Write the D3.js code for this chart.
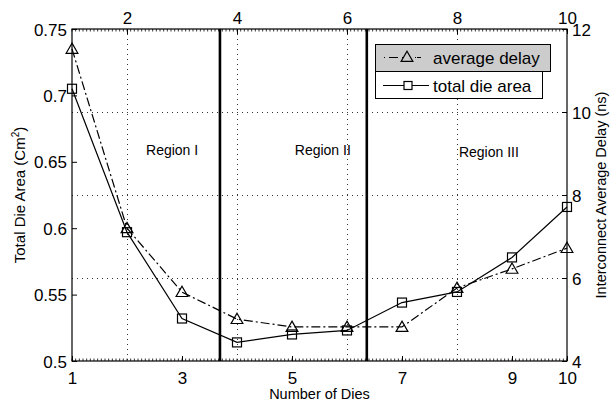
<!DOCTYPE html>
<html><head><meta charset="utf-8">
<script src="https://cdn.jsdelivr.net/npm/d3@7"></script>
<style>body{margin:0;background:#fff}svg{display:block;font-family:"Liberation Sans",Arial,sans-serif}</style>
</head><body><svg id="c" width="611" height="405"></svg>
<script>
const dies = [1,2,3,4,5,6,7,8,9,10];
const dieArea = [0.705,0.597,0.532,0.514,0.520,0.523,0.544,0.552,0.578,0.616];
const avgDelay = [11.52,7.20,5.66,5.01,4.82,4.82,4.82,5.76,6.22,6.72];
const bottomTicks = [1,3,5,7,9,10];
const topTicks = [2,4,6,8,10];
const leftTicks = [0.5,0.55,0.6,0.65,0.7,0.75];
const rightTicks = [4,6,8,10,12];
const regionBounds = [3.69, 6.36];
const regionNames = ["Region I","Region II","Region III"];
const regionX = [2.82, 5.56, 8.58];
const regionY = [9.08, 9.08, 9.04];
const legendNames = ["average delay","total die area"];

const svg = d3.select("#c");
const L=72,R=567,T=29,B=361;
const x = d3.scaleLinear().domain([1,10]).range([L,R]);
const yL = d3.scaleLinear().domain([0.5,0.75]).range([B,T]);
const yR = d3.scaleLinear().domain([4,12]).range([B,T]);

// grid (from second axes)
const g = svg.append("g").attr("stroke","#333").attr("stroke-width",1).attr("stroke-dasharray","1,4");
topTicks.filter(t=>t<10).forEach(t=>g.append("line").attr("x1",x(t)+0.5).attr("x2",x(t)+0.5).attr("y1",T).attr("y2",B));
rightTicks.filter(t=>t>4&&t<12).forEach(t=>g.append("line").attr("x1",L).attr("x2",R).attr("y1",yR(t)+0.5).attr("y2",yR(t)+0.5));

// minor ticks
const minor = d3.range(1,10.001,1/15);
const mt = svg.append("g").attr("stroke","#000").attr("stroke-width",0.8);
minor.forEach(v=>{
  mt.append("line").attr("x1",x(v)).attr("x2",x(v)).attr("y1",B).attr("y2",B-2.5);
  mt.append("line").attr("x1",x(v)).attr("x2",x(v)).attr("y1",T).attr("y2",T+2.5);
});

// axes
const fs = "17px";
const axB = svg.append("g").attr("transform",`translate(0,${B})`).call(d3.axisBottom(x).tickValues(bottomTicks).tickSize(-5).tickPadding(9).tickFormat(d3.format("d")));
const axT = svg.append("g").attr("transform",`translate(0,${T})`).call(d3.axisTop(x).tickValues(topTicks).tickSize(-5).tickPadding(5).tickFormat(d3.format("d")));
const axL = svg.append("g").attr("transform",`translate(${L},0)`).call(d3.axisLeft(yL).tickValues(leftTicks).tickSize(-5).tickPadding(5).tickFormat(d=>d3.format("")(d)));
const axR = svg.append("g").attr("transform",`translate(${R},0)`).call(d3.axisRight(yR).tickValues(rightTicks).tickSize(-5).tickPadding(5).tickFormat(d3.format("d")));
[axB,axT,axL,axR].forEach(a=>{
  a.select(".domain").remove();
  a.selectAll("line").attr("stroke","#000");
  a.selectAll("text").attr("font-size",fs).attr("font-family","Liberation Sans, Arial, sans-serif").attr("fill","#000");
});
axB.selectAll("text").attr("dy","0.8em");
axL.selectAll("text").attr("dy","0.36em");
axR.selectAll("text").attr("dy","0.4em");
axT.selectAll("text").attr("dy","0em");
// frame
svg.append("rect").attr("x",L).attr("y",T).attr("width",R-L).attr("height",B-T).attr("fill","none").attr("stroke","#000").attr("stroke-width",1.2);

// region boundaries
svg.append("g").selectAll("line").data(regionBounds).join("line")
  .attr("x1",d=>x(d)).attr("x2",d=>x(d)).attr("y1",T).attr("y2",B)
  .attr("stroke","#000").attr("stroke-width",2.6);
svg.append("g").selectAll("text").data(regionNames).join("text")
  .attr("x",(d,i)=>x(regionX[i])).attr("y",(d,i)=>yR(regionY[i])).attr("dy","0.35em")
  .attr("text-anchor","middle").attr("font-size","14px").text(d=>d);

// series
const lineArea = d3.line().x((d,i)=>x(dies[i])).y(d=>yL(d));
const lineDelay = d3.line().x((d,i)=>x(dies[i])).y(d=>yR(d));
svg.append("path").datum(avgDelay).attr("d",lineDelay).attr("fill","none").attr("stroke","#000").attr("stroke-width",1.2).attr("stroke-dasharray","9,3,2,3");
svg.append("path").datum(dieArea).attr("d",lineArea).attr("fill","none").attr("stroke","#000").attr("stroke-width",1.2);

const tri = d3.symbol().type(d3.symbolTriangle).size(60);
const sq = 9;
svg.append("g").selectAll("path").data(avgDelay).join("path")
  .attr("transform",(d,i)=>`translate(${x(dies[i])},${yR(d)+1})`).attr("d",tri())
  .attr("fill","none").attr("stroke","#000").attr("stroke-width",1.2);
svg.append("g").selectAll("rect").data(dieArea).join("rect")
  .attr("x",(d,i)=>x(dies[i])-sq/2).attr("y",d=>yL(d)-sq/2).attr("width",sq).attr("height",sq)
  .attr("fill","none").attr("stroke","#000").attr("stroke-width",1.2);

// axis titles
svg.append("text").attr("transform",`translate(${(L+R)/2},399)`).attr("text-anchor","middle").attr("font-size","14.5px").text("Number of Dies");
const yt = svg.append("text").attr("transform",`translate(25,${(T+B)/2}) rotate(-90)`).attr("text-anchor","middle").attr("font-size","15px");
yt.append("tspan").text("Total Die Area (Cm");
yt.append("tspan").attr("font-size","10px").attr("dy","-6").text("2");
yt.append("tspan").attr("dy","6").text(")");
svg.append("text").attr("transform",`translate(606,${(T+B)/2}) rotate(-90)`).attr("text-anchor","middle").attr("font-size","14.5px").text("Interconnect Average Delay (ns)");

// legend
const lg = svg.append("g");
lg.append("rect").attr("x",375.5).attr("y",71.5).attr("width",167).attr("height",27).attr("fill","#fff").attr("stroke","#000").attr("stroke-width",1);
lg.append("rect").attr("x",375.5).attr("y",44.5).attr("width",175).attr("height",27).attr("fill","#cccccc").attr("stroke","#000").attr("stroke-width",1);
lg.append("line").attr("x1",384).attr("x2",429).attr("y1",57.5).attr("y2",57.5).attr("stroke","#000").attr("stroke-width",1.2).attr("stroke-dasharray","1,4,9,4,9,4,1");
lg.append("path").attr("transform","translate(407,58)").attr("d",tri()).attr("fill","#cccccc").attr("stroke","#000").attr("stroke-width",1.2);
lg.append("line").attr("x1",383).attr("x2",429).attr("y1",85.5).attr("y2",85.5).attr("stroke","#000").attr("stroke-width",1.2);
lg.append("rect").attr("x",404).attr("y",81.5).attr("width",8).attr("height",8).attr("fill","#fff").attr("stroke","#000").attr("stroke-width",1.2);
lg.selectAll("text").data(legendNames).join("text")
  .attr("x",433).attr("y",(d,i)=>58+i*28).attr("dy","0.36em").attr("font-size","17px").text(d=>d);
</script></body></html>
